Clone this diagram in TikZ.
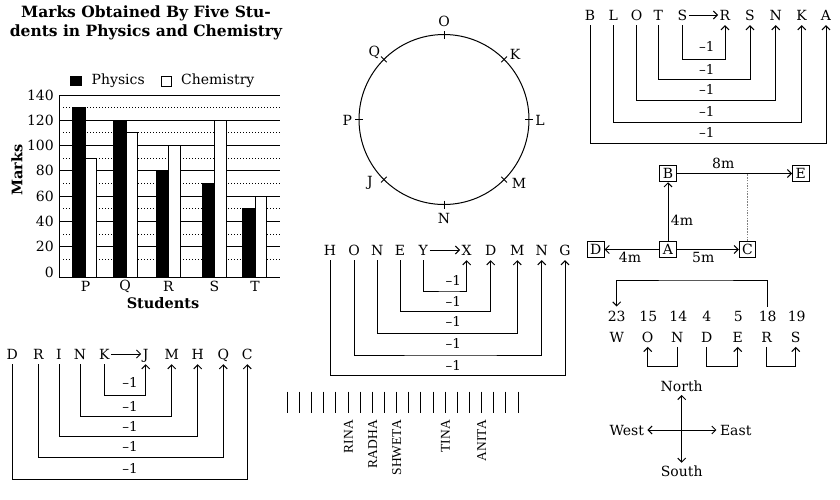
\documentclass[tikz,border=0pt]{standalone}
\usepackage{fontspec}
\setmainfont{DejaVu Serif}
\newfontfamily\namefont{Liberation Serif}
\usetikzlibrary{arrows.meta}
\begin{document}
\begin{tikzpicture}[x=1pt,y=-1pt,
  every node/.style={font=\fontsize{14}{16}\selectfont},
  lt/.style={inner xsep=1.5pt, inner ysep=5pt, text height=10pt, text depth=0pt},
  ln/.style={line width=1pt},
  dotln/.style={line width=1pt, dash pattern=on 1pt off 2pt},
  arr/.style={ln, -{Straight Barb[length=4pt,width=8pt]}},
  dbl/.style={ln, {Straight Barb[length=4pt,width=8pt]}-{Straight Barb[length=4pt,width=8pt]}},
  minus/.style={font=\fontsize{13.5}{15}\selectfont, inner sep=1pt},
  bold/.style={font=\bfseries\fontsize{14.5}{16}\selectfont},
  boxn/.style={draw, line width=1pt, minimum size=16.5pt, inner sep=1pt},
  nm/.style={font=\namefont\fontsize{13.5}{15}\selectfont, rotate=90, anchor=east, inner sep=0pt}
]
\useasboundingbox (0,0) rectangle (840,499);
\fill[white] (0,0) rectangle (840,499);

% ================= BAR CHART =================
\node[bold, font=\bfseries\fontsize{15.5}{17}\selectfont] (t1) at (146,13) {Marks Obtained By Five Stu-};
\node[bold, font=\bfseries\fontsize{15.5}{17}\selectfont] (t2) at (146,32) {dents in Physics and Chemistry};
% legend
\fill (70,76) rectangle (81.5,86);
\node[anchor=west, inner sep=1.5pt] (lphy) at (90,80.5) {Physics};
\draw[ln] (161,76) rectangle (171,86);
\node[anchor=west, inner sep=1.5pt] (lche) at (179.5,80.5) {Chemistry};
% grid
\foreach \v in {20,40,...,140} \draw[ln] (59,{271.98-1.264*\v}) -- (280,{271.98-1.264*\v});
\foreach \v in {10,30,...,130} \draw[dotln] (63,{271.98-1.264*\v}) -- (280,{271.98-1.264*\v});
\draw[ln] (59,95) -- (59,277) -- (280,277);
% tick labels
\foreach \v in {0,20,...,140} \node[anchor=east, inner sep=1pt] (tk\v) at (55,{271.98-1.264*\v}) {\v};
% bars
\def\bar#1#2#3#4{%
  \draw[ln, fill=#4] (#1,277) rectangle (#2,{271.98-1.264*#3});}
\bar{72.7}{85}{130}{black}  \bar{85}{96.7}{90}{white}
\bar{113.3}{126}{120}{black} \bar{126}{137.7}{110}{white}
\bar{156}{168.3}{80}{black}  \bar{168.3}{180}{100}{white}
\bar{202.3}{214.5}{70}{black} \bar{214.5}{226.7}{120}{white}
\bar{242.7}{255}{50}{black}  \bar{255}{266.7}{60}{white}
% categories
\node (cP) at (85.5,286.7) {P};
\node (cQ) at (125,286.7) {Q};
\node (cR) at (168.5,286.7) {R};
\node (cS) at (214.5,286.7) {S};
\node (cT) at (255,286.7) {T};
\node[bold] (xl) at (163,303) {Students};
\node[bold, rotate=90] (yl) at (17,170) {Marks};

% ================= CIRCLE =================
\draw[ln] (444,119.5) circle[radius=85pt];
\foreach \a in {0,45,...,315}
  \draw[ln] ({444+81*cos(\a)},{119.5-81*sin(\a)}) -- ({444+89*cos(\a)},{119.5-89*sin(\a)});
\node (cO) at (444,21.7) {O};
\node (cK) at (515,54) {K};
\node (cL) at (540,120) {L};
\node (cM) at (519,183.3) {M};
\node (cN) at (444,218.3) {N};
\node (cJ) at (370,183.3) {J};
\node (cPP) at (347.3,120) {P};
\node (cQQ) at (374.3,52.7) {Q};

% ================= BLOTS =================
\foreach \n/\x/\t in {b1/590/B, b2/613.3/L, b3/636.7/O, b4/658.3/T, b5/682.3/S,
                      b6/725/R, b7/750/S, b8/775.7/N, b9/801.7/K, b10/826/A}
  \node[lt] (\n) at (\x,15) {\t};
\draw[arr] (b5) -- (b6);
\foreach \l/\r/\y/\m in {b5/b6/59.3/46, b4/b7/79.3/69.3, b3/b8/100.7/89.3, b2/b9/122.3/111, b1/b10/143.3/132.7}{
  \coordinate (lv\l) at (706.7,\y);
  \draw[arr] (\l.south) |- (lv\l) -| (\r.south);
  \node[minus] (m\l) at (706.7,\m) {–1};
}

% ================= DIRECTIONS =================
\node[boxn] (B) at (668,173.5) {B};
\node[boxn] (E) at (800.8,173.5) {E};
\node[boxn] (D) at (595.8,249.5) {D};
\node[boxn] (A) at (668,249.5) {A};
\node[boxn] (C) at (747.5,249.5) {C};
\draw[arr] (A) -- (B);
\draw[arr] (B) -- (E);
\draw[arr] (A) -- (D);
\draw[arr] (A) -- (C);
\coordinate (cup) at (747.5,173.5);
\draw[line width=0.6pt, gray, dash pattern=on 1.5pt off 1.2pt] (C.north) -- (cup);
\node (d8) at (723.3,163.3) {8m};
\node (d4a) at (682,220.7) {4m};
\node (d4b) at (630,257) {4m};
\node (d5) at (703.3,257) {5m};

% ================= HONEY =================
\foreach \n/\x/\t in {h1/330/H, h2/354/O, h3/377.3/N, h4/400/E, h5/423.3/Y,
                      h6/466.7/X, h7/490.7/D, h8/517.3/M, h9/541.7/N, h10/565/G}
  \node[lt] (\n) at (\x,250) {\t};
\draw[arr] (h5) -- (h6);
\foreach \l/\r/\y/\m in {h5/h6/291/280, h4/h7/311.7/301, h3/h8/333.3/321.7, h2/h9/355/343.3, h1/h10/375.7/365}{
  \coordinate (lv\l) at (453.3,\y);
  \draw[arr] (\l.south) |- (lv\l) -| (\r.south);
  \node[minus] (m\l) at (453.3,\m) {–1};
}

% ================= DRINK =================
\foreach \n/\x/\t in {k1/12.3/D, k2/38.3/R, k3/59/I, k4/80/N, k5/104.3/K,
                      k6/145.7/J, k7/171.7/M, k8/197.7/H, k9/223.3/Q, k10/247.3/C}
  \node[lt] (\n) at (\x,354) {\t};
\draw[arr] (k5) -- (k6);
\foreach \l/\r/\y/\m in {k5/k6/395.7/382.7, k4/k7/416/406, k3/k8/436.7/426.7, k2/k9/457.3/446.7, k1/k10/479.3/468.3}{
  \coordinate (lv\l) at (130,\y);
  \draw[arr] (\l.south) |- (lv\l) -| (\r.south);
  \node[minus] (m\l) at (130,\m) {–1};
}

% ================= WONDERS =================
\foreach \n/\x/\t in {w1/616.7/23, w2/648.3/15, w3/678.3/14, w4/706.7/4, w5/738.3/5, w6/767.7/18, w7/796.7/19}
  \node[lt] (\n) at (\x,316.7) {\t};
\foreach \n/\x/\t in {v1/616.7/W, v2/647.7/O, v3/677.3/N, v4/706.7/D, v5/737.7/E, v6/766.7/R, v7/795.7/S}
  \node[lt, inner ysep=4pt] (\n) at (\x,337.7) {\t};
\coordinate (wtop) at (700,280);
\draw[arr] (w6.north) |- (wtop) -| (w1.north);
\coordinate (wlev) at (700,366);
\foreach \l/\r in {v3/v2, v4/v5, v6/v7}
  \draw[arr] (\l.south) -- (\l.south |- wlev) -| (\r.south);

% ================= COMPASS =================
\coordinate (cc) at (682.3,430);
\node (north) at (681.7,386) {North};
\node (south) at (681.7,471.7) {South};
\node (west) at (626.7,430) {West};
\node (east) at (735.7,430) {East};
\draw[dbl] (north) -- (south);
\draw[dbl] (west) -- (east);

% ================= NAMES LINE =================
\foreach \i in {0,...,19}
  \draw[line width=0.8pt] ({287.3+12.14*\i},391.7) -- ({287.3+12.14*\i},413.3);
\node[nm] (rina) at (348.3,420) {RINA};
\node[nm] (radha) at (372.7,420) {RADHA};
\node[nm] (shweta) at (396.7,420) {SHWETA};
\node[nm] (tina) at (445.3,420) {TINA};
\node[nm] (anita) at (481.7,420) {ANITA};
\end{tikzpicture}
\end{document}
